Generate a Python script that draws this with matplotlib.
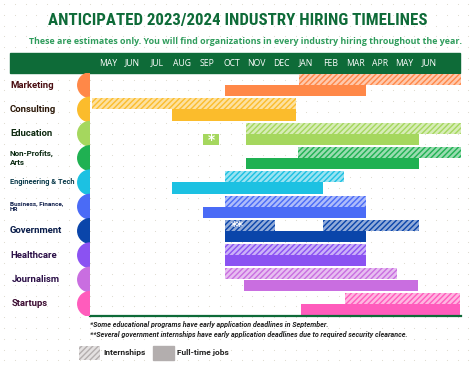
import numpy as np
import matplotlib
matplotlib.use("Agg")
import matplotlib.pyplot as plt
from matplotlib.patches import Rectangle, Ellipse
from matplotlib.transforms import blended_transform_factory
from matplotlib.colors import to_rgb

# ---- DATA ----
months = ["MAY", "JUN", "JUL", "AUG", "SEP", "OCT", "NOV", "DEC",
          "JAN", "FEB", "MAR", "APR", "MAY", "JUN"]
industries = ["Marketing", "Consulting", "Education", "Non-Profits,\nArts",
              "Engineering & Tech", "Business, Finance,\nHR", "Government",
              "Healthcare", "Journalism", "Startups"]
# month offsets from start of May 2023
intern_spans = [[(8.25, 14.78)], [(-0.15, 8.1)], [(6.1, 14.78)], [(8.2, 14.78)],
                [(5.25, 10.05)], [(5.25, 10.95)], [(5.25, 7.25), (9.2, 13.1)],
                [(5.25, 10.95)], [(5.25, 12.2)], [(10.1, 14.75)]]
fulltime_spans = [(5.25, 10.95), (3.1, 8.1), (6.1, 13.1), (6.1, 13.1),
                  (3.1, 9.2), (4.35, 10.95), (5.25, 10.95), (5.25, 10.95),
                  (6.0, 13.05), (8.3, 14.75)]
edu_note_span = (4.35, 5.0)
gov_note_pos = 5.75

colors = ["#ff8848", "#fbbc2c", "#a5d75e", "#1fb152", "#1cc1e2",
          "#4a6bf6", "#0a45aa", "#8b52f2", "#c96ee0", "#ff5cbc"]
label_colors = ["#4a0e12", "#2a1606", "#0e2a10", "#0b2a12", "#0a3a4a",
                "#0e1d4a", "#0a1d4a", "#2a0e46", "#2a0e46", "#3a0a30"]
label_sizes = [6.8, 6.8, 6.8, 5.8, 5.3, 4.6, 6.8, 6.8, 6.8, 6.8]

GREEN = "#0e6b38"
W, H = 474, 366
FONT = "Roboto"

plt.rcParams["hatch.linewidth"] = 1.0
fig = plt.figure(figsize=(W / 100, H / 100), dpi=100)
fig.patch.set_facecolor("white")

# ---- BACKGROUND (pixel coords) ----
bg = fig.add_axes([0, 0, 1, 1])
bg.set_xlim(0, W)
bg.set_ylim(H, 0)
bg.axis("off")
gx, gy = np.meshgrid(np.arange(4, W, 10.8), np.arange(4, H, 10.8))
bg.scatter(gx.ravel(), gy.ravel(), s=0.6, color="#dcd8cc", linewidths=0)
bg.add_patch(Rectangle((10, 53), 450, 20, color=GREEN, zorder=2))

fig.text(237.5 / W, 1 - 20 / H, "ANTICIPATED 2023/2024 INDUSTRY HIRING TIMELINES",
         ha="center", va="center", fontsize=12.2, fontweight="bold",
         family=["Roboto Condensed", "Roboto"], stretch="condensed", color=GREEN)
fig.text(245.5 / W, 1 - 42 / H,
         "These are estimates only. You will find organizations in every industry hiring throughout the year.",
         ha="center", va="center", fontsize=6.4, fontweight="bold",
         family="Open Sans", color="#2f9c5c")

# ---- MAIN TIMELINE AXES ----
x0, x1, y0, y1 = 90, 461, 73, 316
ax = fig.add_axes([x0 / W, 1 - y1 / H, (x1 - x0) / W, (y1 - y0) / H])
ax.set_facecolor("none")
ax.set_xlim(-0.23, 14.79)
ax.set_ylim(len(industries), 0)
for s in ["top", "left", "right"]:
    ax.spines[s].set_visible(False)
ax.spines["bottom"].set_color(GREEN)
ax.spines["bottom"].set_linewidth(1.6)
ax.set_xticks([])
ax.set_yticks([])


def tint(c, f=0.55):
    r = np.array(to_rgb(c))
    return tuple(r + (1 - r) * f)


for i, c in enumerate(colors):
    for a, b in intern_spans[i]:
        ax.barh(i + 0.27, b - a, left=a, height=0.45, color=tint(c),
                edgecolor=c, hatch="//////", linewidth=0)
    a, b = fulltime_spans[i]
    ax.barh(i + 0.73, b - a, left=a, height=0.46, color=c, linewidth=0)

# notes on Education / Government
a, b = edu_note_span
ax.barh(2.73, b - a, left=a, height=0.46, color=colors[2], linewidth=0)
ax.text((a + b) / 2, 2.76, "*", color="white", ha="center", va="center",
        fontsize=10, fontweight="bold")
ax.text(gov_note_pos, 6.33, "**", color="white", ha="center", va="center",
        fontsize=9, fontweight="bold")

# month labels in header
hdr = blended_transform_factory(ax.transData, fig.transFigure)
for k, m in enumerate(months):
    ax.text(k + 0.5, 1 - 63 / H, m, transform=hdr, ha="center", va="center",
            color="white", fontsize=6.2, family="Open Sans", clip_on=False)

# ---- HALF CIRCLES ----
axc = fig.add_axes([77 / W, 1 - y1 / H, 13 / W, (y1 - y0) / H])
axc.set_xlim(-13, 0)
axc.set_ylim(len(industries), 0)
axc.axis("off")
row_px = (y1 - y0) / len(industries)
for i, c in enumerate(colors):
    axc.add_patch(Ellipse((0, i + 0.5), 24.5, 24.5 / row_px, color=c))

# ---- ROW LABELS ----
lab = blended_transform_factory(fig.transFigure, ax.transData)
for i, name in enumerate(industries):
    xoff = 12 if name in ("Journalism", "Startups") else 10
    ax.text(xoff / W, i + 0.5, name, transform=lab, ha="left", va="center",
            fontsize=label_sizes[i], fontweight="bold", color=label_colors[i],
            family=FONT, linespacing=1.4, clip_on=False)

# ---- FOOTNOTES ----
fig.text(90 / W, 1 - 325 / H,
         "*Some educational programs have early application deadlines in September.",
         fontsize=5.1, style="italic", fontweight="bold", color="#222222",
         va="center", family=FONT)
fig.text(90 / W, 1 - 334 / H,
         "**Several government internships have early application deadlines due to required security clearance.",
         fontsize=5.1, style="italic", fontweight="bold", color="#222222",
         va="center", family=FONT)

# ---- LEGEND ----
bg.add_patch(Rectangle((79, 346), 21, 14, facecolor="#e4e1e1",
                       edgecolor="#b3aeae", hatch="//////", linewidth=0))
bg.add_patch(Rectangle((153, 346), 21, 14, color="#b3aeae"))
fig.text(103 / W, 1 - 353 / H, "Internships", fontsize=6, fontweight="bold",
         color="#222222", va="center", family=FONT)
fig.text(177 / W, 1 - 353 / H, "Full-time jobs", fontsize=6, fontweight="bold",
         color="#222222", va="center", family=FONT)

fig.savefig("out.png", dpi=100)
